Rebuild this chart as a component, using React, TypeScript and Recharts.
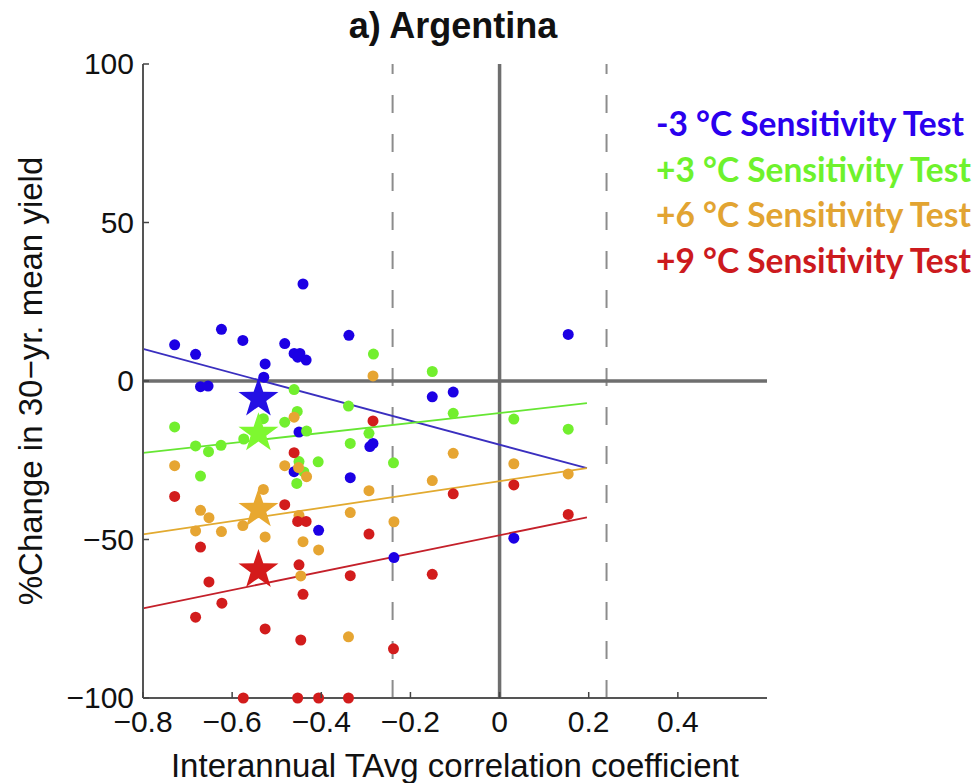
import React from 'react';
import { ScatterChart, Scatter, XAxis, YAxis, ReferenceLine } from 'recharts';

type Pt = { x: number; y: number };

// -3 °C sensitivity test, one dot per model
const minus3Points: Pt[] = [
  { x: -0.729, y: 11.4 }, { x: -0.682, y: 8.4 }, { x: -0.624, y: 16.3 }, { x: -0.576, y: 12.8 },
  { x: -0.482, y: 11.8 }, { x: -0.461, y: 8.7 }, { x: -0.448, y: 8.7 }, { x: -0.453, y: 7.5 },
  { x: -0.434, y: 6.6 }, { x: -0.526, y: 5.4 }, { x: -0.529, y: 1.2 }, { x: -0.671, y: -1.8 },
  { x: -0.654, y: -1.6 }, { x: -0.441, y: 30.6 }, { x: -0.338, y: 14.4 }, { x: -0.151, y: -5.0 },
  { x: -0.104, y: -3.5 }, { x: 0.154, y: 14.7 }, { x: -0.45, y: -16.1 }, { x: -0.291, y: -20.7 },
  { x: -0.284, y: -19.7 }, { x: -0.335, y: -30.5 }, { x: -0.406, y: -47.1 }, { x: -0.237, y: -55.7 },
  { x: -0.461, y: -28.6 }, { x: 0.032, y: -49.6 },
];

const plus3Points: Pt[] = [
  { x: -0.729, y: -14.5 }, { x: -0.682, y: -20.5 }, { x: -0.653, y: -22.3 }, { x: -0.625, y: -20.3 },
  { x: -0.574, y: -18.3 }, { x: -0.53, y: -11.9 }, { x: -0.482, y: -13.0 }, { x: -0.461, y: -2.7 },
  { x: -0.454, y: -9.6 }, { x: -0.433, y: -15.8 }, { x: -0.45, y: -25.4 }, { x: -0.439, y: -28.7 },
  { x: -0.455, y: -32.3 }, { x: -0.407, y: -25.5 }, { x: -0.671, y: -30.0 }, { x: -0.335, y: -19.7 },
  { x: -0.339, y: -7.9 }, { x: -0.293, y: -16.5 }, { x: -0.283, y: 8.5 }, { x: -0.151, y: 3.0 },
  { x: -0.104, y: -10.2 }, { x: -0.238, y: -25.8 }, { x: 0.032, y: -12.0 }, { x: 0.154, y: -15.2 },
];

const plus6Points: Pt[] = [
  { x: -0.284, y: 1.6 }, { x: -0.461, y: -11.4 }, { x: -0.729, y: -26.7 }, { x: -0.482, y: -26.7 },
  { x: -0.451, y: -27.3 }, { x: -0.433, y: -30.2 }, { x: -0.53, y: -34.2 }, { x: -0.671, y: -40.8 },
  { x: -0.652, y: -43.1 }, { x: -0.682, y: -47.3 }, { x: -0.624, y: -47.5 }, { x: -0.576, y: -45.6 },
  { x: -0.526, y: -49.2 }, { x: -0.45, y: -42.4 }, { x: -0.441, y: -50.7 }, { x: -0.406, y: -53.3 },
  { x: -0.446, y: -61.5 }, { x: -0.335, y: -41.5 }, { x: -0.293, y: -34.6 }, { x: -0.339, y: -80.7 },
  { x: -0.151, y: -31.4 }, { x: -0.237, y: -44.4 }, { x: -0.104, y: -22.8 }, { x: 0.032, y: -26.1 },
  { x: 0.154, y: -29.3 },
];

const plus9Points: Pt[] = [
  { x: -0.284, y: -12.6 }, { x: -0.461, y: -22.6 }, { x: -0.729, y: -36.4 }, { x: -0.482, y: -39.0 },
  { x: -0.453, y: -44.3 }, { x: -0.434, y: -44.3 }, { x: -0.293, y: -48.3 }, { x: -0.671, y: -52.4 },
  { x: -0.45, y: -58.0 }, { x: -0.652, y: -63.4 }, { x: -0.335, y: -61.4 }, { x: -0.441, y: -67.3 },
  { x: -0.623, y: -70.1 }, { x: -0.682, y: -74.5 }, { x: -0.526, y: -78.2 }, { x: -0.446, y: -81.7 },
  { x: -0.575, y: -100 }, { x: -0.453, y: -100 }, { x: -0.406, y: -100 }, { x: -0.339, y: -100 },
  { x: -0.151, y: -61.0 }, { x: -0.104, y: -35.6 }, { x: 0.032, y: -32.8 }, { x: 0.154, y: -42.1 },
  { x: -0.238, y: -84.5 },
];

// ensemble means (stars)
const minus3Mean: Pt[] = [{ x: -0.541, y: -5.5 }];
const plus3Mean: Pt[] = [{ x: -0.541, y: -16.5 }];
const plus6Mean: Pt[] = [{ x: -0.541, y: -40.5 }];
const plus9Mean: Pt[] = [{ x: -0.541, y: -59.6 }];

// least-squares fits, end points
const minus3Fit: Pt[] = [{ x: -0.8, y: 10.1 }, { x: 0.196, y: -27.5 }];
const plus3Fit: Pt[] = [{ x: -0.8, y: -22.7 }, { x: 0.196, y: -7.0 }];
const plus6Fit: Pt[] = [{ x: -0.8, y: -48.4 }, { x: 0.196, y: -27.5 }];
const plus9Fit: Pt[] = [{ x: -0.8, y: -71.7 }, { x: 0.196, y: -43.0 }];

const xTicks = [-0.8, -0.6, -0.4, -0.2, 0, 0.2, 0.4];
const yTicks = [-100, -50, 0, 50, 100];
const sigLines = [-0.24, 0.24];

const legendLabels = [
  '-3 °C Sensitivity Test',
  '+3 °C Sensitivity Test',
  '+6 °C Sensitivity Test',
  '+9 °C Sensitivity Test',
];
const legendColors = ['#2a00ee', '#6ef22c', '#e2a432', '#cc1a1e'];

const dotColors = { m3: '#1c00e4', p3: '#72ef2e', p6: '#e6a532', p9: '#d21c1c' };
const lineColors = { m3: '#3a2fbf', p3: '#66e633', p6: '#e2aa30', p9: '#c4202a' };

const FONT = '"Liberation Sans", Arial, Helvetica, sans-serif';

const fmt = (v: number) => (v < 0 ? '\u2212' + String(Math.abs(v)) : String(v));

const dot = (color: string) => (props: any) => (
  <circle cx={props.cx} cy={props.cy} r={5.5} fill={color} />
);

const star = (color: string) => (props: any) => {
  const { cx, cy } = props;
  const R = 21;
  const r = 8.2;
  const pts: string[] = [];
  for (let i = 0; i < 10; i++) {
    const rad = i % 2 === 0 ? R : r;
    const a = -Math.PI / 2 + (i * Math.PI) / 5;
    pts.push(`${cx + rad * Math.cos(a)},${cy + rad * Math.sin(a)}`);
  }
  return <polygon points={pts.join(' ')} fill={color} />;
};

const XTick = (props: any) => {
  const { x, y, payload } = props;
  return (
    <g>
      <line x1={x} x2={x} y1={y} y2={y - 6} stroke="#444" strokeWidth={1.5} />
      <text x={x} y={y + 34} textAnchor="middle" fontSize={30} fontFamily={FONT} fill="#111">
        {fmt(payload.value)}
      </text>
    </g>
  );
};

const YTick = (props: any) => {
  const { x, y, payload } = props;
  return (
    <g>
      <line x1={x} x2={x + 6} y1={y} y2={y} stroke="#444" strokeWidth={1.5} />
      <text x={x - 9} y={y + 10} textAnchor="end" fontSize={30} fontFamily={FONT} fill="#111">
        {fmt(payload.value)}
      </text>
    </g>
  );
};

export default function App() {
  return (
    <div style={{ position: 'absolute', left: 0, top: 0, width: 978, height: 783, background: '#fff' }}>
      <div
        style={{
          position: 'absolute', left: 0, top: 8, width: 906, textAlign: 'center',
          fontFamily: FONT, fontWeight: 700, fontSize: 36, lineHeight: '36px', color: '#111',
        }}
      >
        a) Argentina
      </div>

      <ScatterChart width={978} height={783} margin={{ top: 64, right: 211, bottom: 0, left: 0 }}>
        <XAxis
          type="number"
          dataKey="x"
          domain={[-0.8, 0.6]}
          ticks={xTicks}
          interval={0}
          height={85}
          tickSize={0}
          tickMargin={0}
          tickLine={false}
          tick={<XTick />}
          axisLine={{ stroke: '#555', strokeWidth: 2 }}
          label={{
            value: 'Interannual TAvg correlation coefficient',
            position: 'insideBottom',
            offset: 6,
            fontSize: 33,
            fontFamily: FONT,
            fill: '#111',
          }}
        />
        <YAxis
          type="number"
          dataKey="y"
          domain={[-100, 100]}
          ticks={yTicks}
          interval={0}
          width={143}
          tickSize={0}
          tickMargin={0}
          tickLine={false}
          tick={<YTick />}
          axisLine={{ stroke: '#555', strokeWidth: 2 }}
          label={{
            value: '%Change in 30\u2212yr. mean yield',
            angle: -90,
            position: 'insideLeft',
            offset: 30,
            fontSize: 33,
            fontFamily: FONT,
            fill: '#111',
            style: { textAnchor: 'middle' },
          }}
        />

        {sigLines.map((v) => (
          <ReferenceLine key={v} x={v} stroke="#8c8c8c" strokeWidth={2} strokeDasharray="18 21" />
        ))}
        <ReferenceLine x={0} stroke="#6e6e6e" strokeWidth={3.5} />
        <ReferenceLine y={0} stroke="#6e6e6e" strokeWidth={3.5} />

        <Scatter data={minus3Points} shape={dot(dotColors.m3)} isAnimationActive={false} />
        <Scatter data={plus3Points} shape={dot(dotColors.p3)} isAnimationActive={false} />
        <Scatter data={plus6Points} shape={dot(dotColors.p6)} isAnimationActive={false} />
        <Scatter data={plus9Points} shape={dot(dotColors.p9)} isAnimationActive={false} />

        <ReferenceLine segment={minus3Fit} stroke={lineColors.m3} strokeWidth={1.8} />
        <ReferenceLine segment={plus3Fit} stroke={lineColors.p3} strokeWidth={1.8} />
        <ReferenceLine segment={plus6Fit} stroke={lineColors.p6} strokeWidth={1.8} />
        <ReferenceLine segment={plus9Fit} stroke={lineColors.p9} strokeWidth={1.8} />

        <Scatter data={minus3Mean} shape={star('#2410e4')} isAnimationActive={false} />
        <Scatter data={plus3Mean} shape={star('#7ef830')} isAnimationActive={false} />
        <Scatter data={plus6Mean} shape={star('#e8a830')} isAnimationActive={false} />
        <Scatter data={plus9Mean} shape={star('#d41a1a')} isAnimationActive={false} />
      </ScatterChart>

      <div
        style={{
          position: 'absolute', left: 656, top: 101,
          fontFamily: 'Lato, "Open Sans", sans-serif', fontWeight: 700, fontSize: 33.5, lineHeight: '45.5px',
          whiteSpace: 'nowrap',
        }}
      >
        {legendLabels.map((t, i) => (
          <div key={t} style={{ color: legendColors[i] }}>{t}</div>
        ))}
      </div>
    </div>
  );
}
